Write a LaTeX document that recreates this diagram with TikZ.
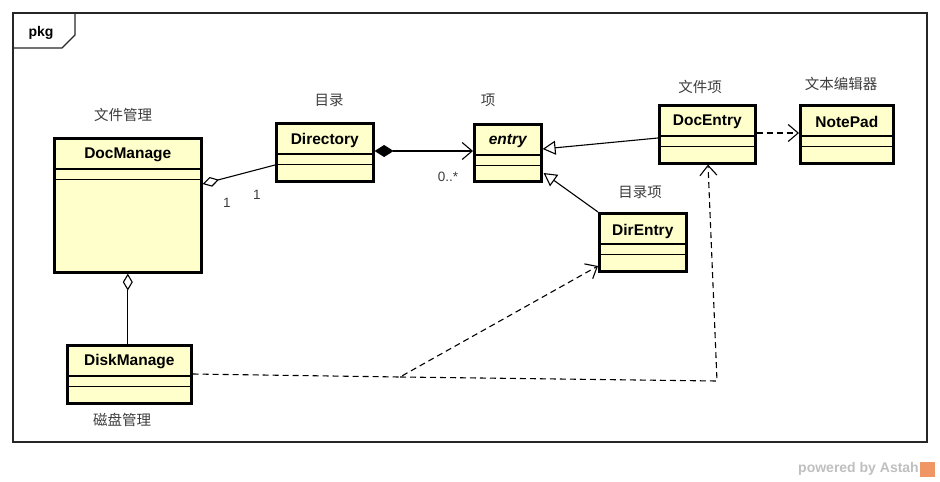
\documentclass[tikz,border=0pt]{standalone}
\usepackage{fontspec}
\setmainfont{Liberation Sans}
\newfontfamily\cjk{Noto Sans CJK SC}
\usetikzlibrary{arrows.meta}
\definecolor{clsfill}{RGB}{255,255,204}
\definecolor{lblgray}{RGB}{60,60,60}
\definecolor{astahorange}{RGB}{240,150,100}
\begin{document}
\begin{tikzpicture}[x=1pt,y=-1pt,
  cls/.style={draw=black, line width=2.6pt, fill=clsfill, rectangle, anchor=north west, inner sep=0pt},
  cname/.style={font=\fontsize{15.5}{18}\selectfont\bfseries, inner sep=0pt},
  clbl/.style={font=\cjk\fontsize{14.5}{17}\selectfont, text=lblgray, inner sep=0pt},
  mult/.style={font=\fontsize{13.5}{15}\selectfont, text=lblgray, inner sep=0pt},
  conn/.style={line width=1.1pt, draw=black},
  dep/.style={conn, dash pattern=on 6pt off 4pt},
  openarrow/.style={-{Straight Barb[length=10pt,width=17pt,line width=1.1pt]}},
  comp/.style={line width=1.2pt}
]
\useasboundingbox (0,0) rectangle (940,482);

% frame
\draw[line width=1.2pt, black!85] (13,13) rectangle (927,442);
\draw[line width=1.2pt, black!85] (13,48) -- (62,48) -- (75,35) -- (75,13);
\node[font=\fontsize{14}{16}\selectfont\bfseries, inner sep=0pt] (pkg) at (41,33) {pkg};

% classes
\node[cls, minimum width=147pt, minimum height=134pt] (dm) at (53,137) {};
\node[cls, minimum width=97pt, minimum height=58pt] (dir) at (275,122) {};
\node[cls, minimum width=67pt, minimum height=57pt] (ent) at (473,123) {};
\node[cls, minimum width=96pt, minimum height=58pt] (de) at (658,104) {};
\node[cls, minimum width=93pt, minimum height=58pt] (np) at (799,104) {};
\node[cls, minimum width=87pt, minimum height=58pt] (dre) at (598,212) {};
\node[cls, minimum width=124pt, minimum height=58pt] (dk) at (66,344) {};

\foreach \b in {dm,dir,ent,de,np,dre,dk}{
  \draw[comp] ([yshift=-32pt,xshift=1pt]\b.north west) -- ([yshift=-32pt,xshift=-1pt]\b.north east);
  \draw[comp] ([yshift=-42.5pt,xshift=1pt]\b.north west) -- ([yshift=-42.5pt,xshift=-1pt]\b.north east);
}

\node[cname] (dmn) at ([yshift=-18pt]dm.north) {DocManage};
\node[cname] (dirn) at ([yshift=-18pt]dir.north) {Directory};
\node[cname] (entn) at ([yshift=-18pt]ent.north) {\itshape entry};
\node[cname] (den) at ([yshift=-18pt]de.north) {DocEntry};
\node[cname] (npn) at ([yshift=-18pt]np.north) {NotePad};
\node[cname] (dren) at ([yshift=-19pt]dre.north) {DirEntry};
\node[cname] (dkn) at ([yshift=-18pt]dk.north) {DiskManage};

% labels
\node[clbl] (dml) at (123,115) {文件管理};
\node[clbl] (dirl) at (329,100) {目录};
\node[clbl] (entl) at (488,100) {项};
\node[clbl] (del) at (700,87) {文件项};
\node[clbl] (npl) at (841,84) {文本编辑器};
\node[clbl] (drel) at (640,192) {目录项};
\node[clbl] (dkl) at (122,420) {磁盘管理};

% multiplicities
\node[mult] (m1) at (227,203) {1};
\node[mult] (m2) at (257,195) {1};
\node[mult] (m3) at (448,177) {0..*};

% connectors
\draw[conn, {Diamond[open,length=17pt,width=10pt,line width=1.1pt]}-]
  ([yshift=-47pt]dm.north east) -- ([yshift=-43pt]dir.north west);
\draw[conn, {Diamond[length=19pt,width=12pt]}-{Straight Barb[length=10pt,width=17pt,line width=1.1pt]}]
  ([yshift=-29pt]dir.north east) -- ([yshift=-28pt]ent.north west);
\draw[conn, -{Triangle[open,length=13pt,width=14pt,line width=1.1pt]}]
  ([yshift=-34pt]de.north west) -- ([yshift=-26pt]ent.north east);
\draw[conn, -{Triangle[open,length=13pt,width=14pt,line width=1.1pt]}]
  (dre.north west) -- ([yshift=-50pt,xshift=1pt]ent.north east);
\draw[dep, openarrow] ([yshift=-29pt]de.north east) -- ([yshift=-29pt]np.north west);
\draw[conn, {Diamond[open,length=17pt,width=10pt,line width=1.1pt]}-]
  (dm.south) -- (dm.south |- dk.north);

\coordinate (bend) at (400,377);
\coordinate (corner) at (717,381);
\draw[dep, openarrow] ([yshift=-30pt]dk.north east) -- (bend) -- ([yshift=-54pt]dre.north west);
\draw[dep, openarrow] (bend) -- (corner) -- ([xshift=50pt]de.south west);

% watermark
\node[font=\fontsize{14}{16}\selectfont\bfseries, text=black!25, inner sep=0pt, anchor=east] (pw) at (919,469) {powered by Astah};
\node[fill=astahorange, minimum size=15pt, inner sep=0pt] (logo) at (927,469) {};
\end{tikzpicture}
\end{document}
